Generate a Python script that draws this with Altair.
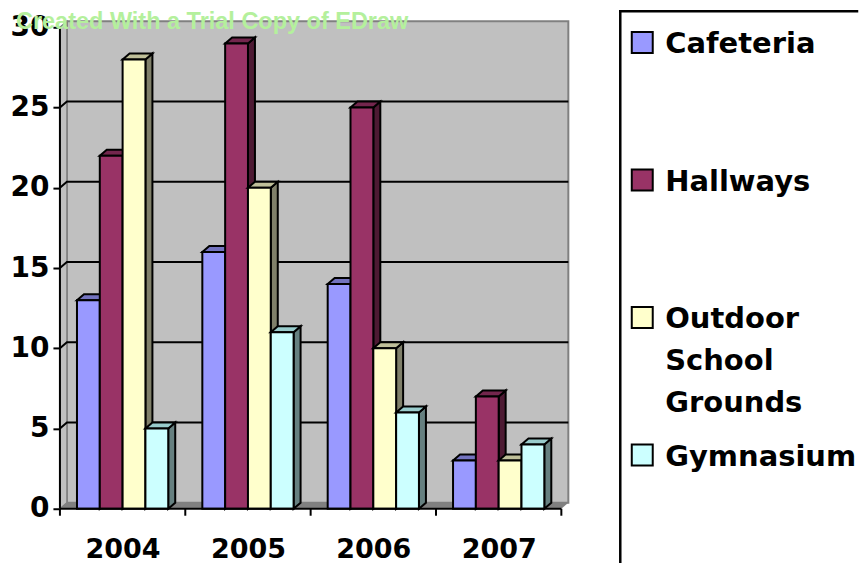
import json

import altair as alt
import pandas as pd

# ---- data -------------------------------------------------------------
years = ["2004", "2005", "2006", "2007"]
series = ["Cafeteria", "Hallways", "Outdoor School Grounds", "Gymnasium"]
cafeteria = [13, 16, 14, 3]
hallways = [22, 29, 25, 7]
outdoor = [28, 20, 10, 3]
gymnasium = [5, 11, 6, 4]
y_ticks = [0, 5, 10, 15, 20, 25, 30]

values = [cafeteria, hallways, outdoor, gymnasium]

# ---- styles -----------------------------------------------------------
front_colors = ["#9999FF", "#993366", "#FFFFCC", "#CCFFFF"]
top_colors = ["#7373BF", "#73264D", "#BFBF99", "#99CCCC"]
side_colors = ["#4D4D80", "#4D1A33", "#80806A", "#668080"]
WALL = "#C0C0C0"
WALL_EDGE = "#808080"
FLOOR = "#808080"
FONT = "DejaVu Sans"

N = len(years)
X_PX = 125.5                 # pixels per year group
H = 498                      # plot height
Y_MAX = 31
Y_PX = H / Y_MAX
DX = 7 / X_PX                # 3-D depth, horizontal (x units)
DY = 6 / Y_PX                # 3-D depth, vertical (y units)
W = round((N + DX) * X_PX)
BAR_W = 0.182
BAR_OFF = 0.136
TOP = y_ticks[-1]

xs = alt.Scale(domain=[0, W / X_PX], nice=False, zero=False)
ys = alt.Scale(domain=[0, Y_MAX], nice=False, zero=False)

x_axis = alt.Axis(
    values=[i + 0.5 for i in range(N)],
    labelExpr=f"{json.dumps(years)}[floor(datum.value)]",
    ticks=False, tickSize=0, domain=False, grid=False, title=None,
    labelFont=FONT, labelFontWeight="bold", labelFontSize=27,
    labelColor="black", labelPadding=28, labelOverlap=False, labelFlush=False,
)
y_axis = alt.Axis(
    values=y_ticks, tickSize=7, tickWidth=2, tickColor="black",
    domain=False, grid=False, title=None,
    labelFont=FONT, labelFontWeight="bold", labelFontSize=28,
    labelColor="black", labelPadding=4,
)


def X(field):
    return alt.X(field, type="quantitative", scale=xs, axis=x_axis, title=None)


def Y(field):
    return alt.Y(field, type="quantitative", scale=ys, axis=y_axis, title=None)


# ---- walls and floor --------------------------------------------------
back_wall = alt.Chart(pd.DataFrame([{"x0": DX, "x1": N + DX, "y0": DY, "y1": TOP + DY}])).mark_rect(
    fill=WALL, stroke=WALL_EDGE, strokeWidth=2
).encode(x=X("x0"), x2="x1", y=Y("y0"), y2="y1")

left_wall = alt.Chart(pd.DataFrame([
    {"x": 0, "y": TOP, "y2": 0},
    {"x": DX, "y": TOP + DY, "y2": DY},
])).mark_area(orient="vertical", fill=WALL, stroke=WALL_EDGE, strokeWidth=1.5).encode(
    x=X("x"), y=Y("y"), y2="y2"
)

floor = alt.Chart(pd.DataFrame([
    {"x": 0, "y": 0, "y2": 0},
    {"x": DX, "y": DY, "y2": 0},
    {"x": N, "y": DY, "y2": 0},
    {"x": N + DX, "y": DY, "y2": DY},
])).mark_area(orient="vertical", fill=FLOOR).encode(
    x=X("x"), y=Y("y"), y2="y2"
)

grid_rows = []
for v in y_ticks[1:-1]:
    grid_rows += [
        {"g": v, "x": 0, "y": v},
        {"g": v, "x": DX, "y": v + DY},
        {"g": v, "x": N + DX, "y": v + DY},
    ]
gridlines = alt.Chart(pd.DataFrame(grid_rows)).mark_line(color="black", strokeWidth=2).encode(
    x=X("x"), y=Y("y"), detail="g:N", order="x:Q"
)

# ---- 3-D columns: side, top, then front face for each series -----------
bar_layers = []
for j, vals in enumerate(values):
    fronts, sides, tops = [], [], []
    for i, val in enumerate(vals):
        x0 = i + BAR_OFF + j * BAR_W
        x1 = x0 + BAR_W
        fronts.append({"year": years[i], "x0": x0, "x1": x1, "v": val})
        sides += [
            {"bar": i, "x": x1, "y": val, "y2": 0},
            {"bar": i, "x": x1 + DX, "y": val + DY, "y2": DY},
        ]
        tops += [
            {"bar": i, "x": x0, "y": val, "y2": val},
            {"bar": i, "x": x0 + DX, "y": val + DY, "y2": val},
            {"bar": i, "x": x1, "y": val + DY, "y2": val},
            {"bar": i, "x": x1 + DX, "y": val + DY, "y2": val + DY},
        ]
    side = alt.Chart(pd.DataFrame(sides)).mark_area(
        orient="vertical", fill=side_colors[j], stroke="black", strokeWidth=2
    ).encode(x=X("x"), y=Y("y"), y2="y2", detail="bar:N")
    top = alt.Chart(pd.DataFrame(tops)).mark_area(
        orient="vertical", fill=top_colors[j], stroke="black", strokeWidth=2
    ).encode(x=X("x"), y=Y("y"), y2="y2", detail="bar:N")
    face = alt.Chart(pd.DataFrame(fronts)).mark_rect(
        fill=front_colors[j], stroke="black", strokeWidth=2
    ).encode(x=X("x0"), x2="x1", y=Y("v"), y2=alt.datum(0))
    bar_layers += [side, top, face]

# ---- axis lines and category ticks ------------------------------------
x_axis_line = alt.Chart(pd.DataFrame([{"x": 0, "x2": N, "y": 0}])).mark_rule(
    color="black", strokeWidth=2
).encode(x=X("x"), x2="x2", y=Y("y"))

y_axis_line = alt.Chart(pd.DataFrame([{"x": 0, "y": 0, "y2": TOP}])).mark_rule(
    color="black", strokeWidth=2
).encode(x=X("x"), y=Y("y"), y2="y2")

x_ticks = alt.Chart(pd.DataFrame({"x": list(range(N + 1)), "y": [0] * (N + 1)})).mark_rule(
    color="black", strokeWidth=2
).encode(x=X("x"), y=Y("y"), y2=alt.value(H + 7))

watermark = alt.Chart(pd.DataFrame([{"t": "Created With a Trial Copy of EDraw"}])).mark_text(
    align="left", baseline="alphabetic", font="Liberation Sans", fontWeight="bold",
    fontSize=23.5, color="#B4F09C",
).encode(x=alt.value(-44), y=alt.value(17.75), text="t:N")

main = alt.layer(
    back_wall, left_wall, floor, gridlines, *bar_layers,
    x_axis_line, y_axis_line, x_ticks, watermark,
).properties(width=W, height=H)

# ---- legend panel (box runs past the right and bottom edges) -----------
LW, LH = 237, 551
legend_df = pd.DataFrame({"series": series})
ly = alt.Scale(type="point", domain=series, range=[31.2, 444.3], padding=0)

box_one = pd.DataFrame([{"f": 1}])
frame_left = alt.Chart(box_one).mark_rule(
    color="black", strokeWidth=2.5, strokeCap="square"
).encode(x=alt.value(0), y=alt.value(0), y2=alt.value(LH))
frame_top = alt.Chart(box_one).mark_rule(
    color="black", strokeWidth=2.5, strokeCap="square"
).encode(x=alt.value(0), x2=alt.value(LW), y=alt.value(0))

swatches = alt.Chart(legend_df).mark_point(
    shape="square", size=441, filled=True, opacity=1, stroke="black", strokeWidth=2
).encode(
    x=alt.value(22),
    y=alt.Y("series:N", scale=ly, axis=None),
    fill=alt.Fill("series:N", scale=alt.Scale(domain=series, range=front_colors), legend=None),
)

labels = alt.Chart(legend_df).transform_calculate(
    lines="split(datum.series, ' ')"
).mark_text(
    align="left", baseline="alphabetic", dy=10.5, font=FONT, fontWeight="bold",
    fontSize=29, lineHeight=42, color="black",
).encode(
    x=alt.value(45),
    y=alt.Y("series:N", scale=ly, axis=None),
    text="lines:N",
)

legend_panel = alt.layer(frame_left, frame_top, swatches, labels).properties(width=LW, height=LH)

chart = alt.hconcat(main, legend_panel, spacing=52, bounds="flush").properties(
    padding={"left": 10, "top": 9, "right": 0, "bottom": 0}
).configure_view(stroke=None)

chart.save("out.html", embed_options={"renderer": "svg", "actions": False})
